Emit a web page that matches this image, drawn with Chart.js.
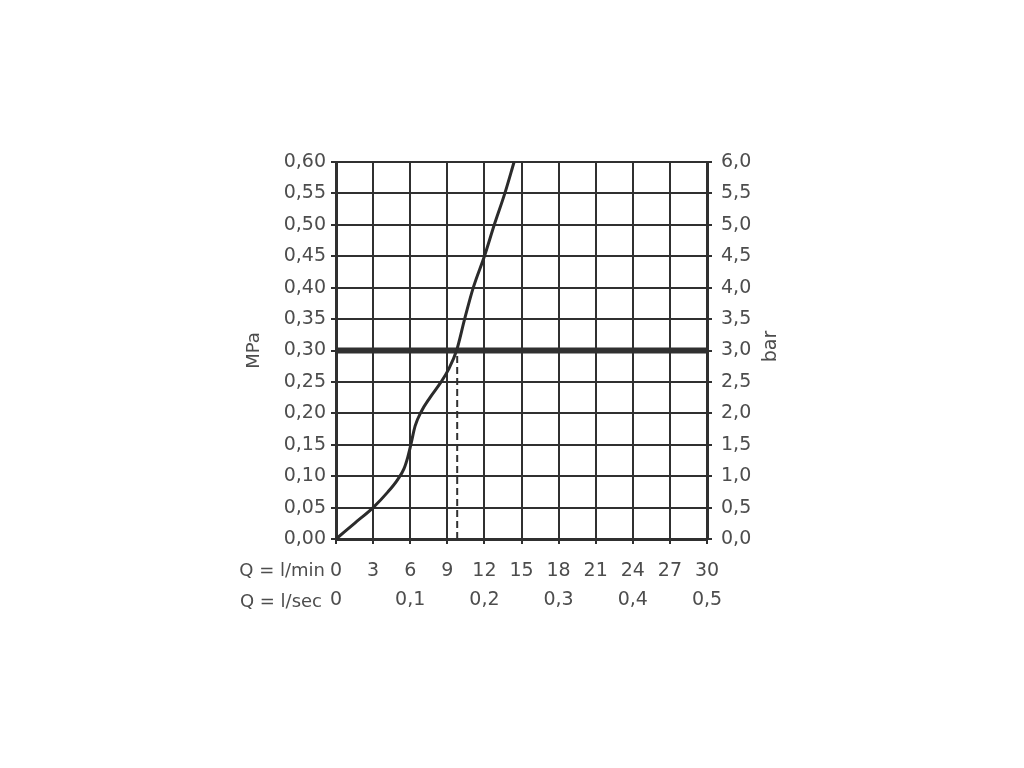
<!DOCTYPE html>
<html>
<head>
<meta charset="utf-8">
<script src="https://cdn.jsdelivr.net/npm/chart.js"></script>
<style>
  html, body { margin: 0; padding: 0; background: #fff; }
  #wrap { width: 1024px; height: 768px; position: relative; }
</style>
</head>
<body>
<div id="wrap"><canvas id="chart" width="1024" height="768"></canvas></div>
<script>
// flow curve (Q in l/min, p in MPa)
const flowLpm = [0, 1.5, 3, 4.2, 5.0, 5.5, 5.8, 6.05, 6.4, 6.9, 7.6, 8.5, 9.1, 9.75, 10.4, 11.1, 12.0, 12.8, 13.65, 14.4];
const pressureMPa = [0, 0.025, 0.05, 0.075, 0.095, 0.112, 0.13, 0.15, 0.18, 0.203, 0.225, 0.25, 0.27, 0.30, 0.35, 0.40, 0.45, 0.50, 0.55, 0.60];

// reference pressure line and the flow it gives
const refPressure = 0.30;
const refFlow = 9.8;

// axis ranges
const lpmMax = 30, lpmStep = 3;
const lpsMax = 0.5, lpsStep = 0.1;
const mpaMax = 0.60, mpaStep = 0.05;
const barMax = 6.0, barStep = 0.5;

const ink = '#303030';
const textCol = '#4d4d4d';
const fontFamily = '"DejaVu Sans", sans-serif';
const fontSize = 19;

function comma(v, digits) {
    return v.toFixed(digits).replace('.', ',');
}

// extra labels: row captions below the plot and the rotated "bar" title
const sideLabels = {
    id: 'sideLabels',
    afterDraw(chart) {
        const ctx = chart.ctx;
        const area = chart.chartArea;
        ctx.save();
        ctx.fillStyle = textCol;
        ctx.font = '18px ' + fontFamily;
        ctx.textAlign = 'right';
        ctx.textBaseline = 'middle';
        ctx.fillText('Q = l/min', area.left - 11, 571);
        ctx.fillText('Q = l/sec', area.left - 14, 602);

        ctx.font = fontSize + 'px ' + fontFamily;
        ctx.translate(771, (area.top + area.bottom) / 2 - 4);
        ctx.rotate(-Math.PI / 2);
        ctx.textAlign = 'center';
        ctx.fillText('bar', 0, 0);
        ctx.restore();
    }
};

const tickFont = { family: fontFamily, size: fontSize };

const ctx = document.getElementById('chart').getContext('2d');
new Chart(ctx, {
    type: 'line',
    data: {
        datasets: [
            {
                data: flowLpm.map((q, i) => ({ x: q, y: pressureMPa[i] })),
                borderColor: '#2b2b2b',
                borderWidth: 3,
                pointRadius: 0,
                cubicInterpolationMode: 'monotone',
                clip: false
            },
            {
                data: [{ x: 0, y: refPressure }, { x: lpmMax, y: refPressure }],
                borderColor: ink,
                borderWidth: 6,
                pointRadius: 0
            },
            {
                data: [{ x: refFlow, y: 0 }, { x: refFlow, y: refPressure }],
                borderColor: ink,
                borderWidth: 2,
                borderDash: [7, 4],
                pointRadius: 0
            }
        ]
    },
    options: {
        responsive: false,
        animation: false,
        layout: { padding: { left: 240, right: 250, top: 162, bottom: 134 } },
        plugins: {
            legend: { display: false },
            tooltip: { enabled: false }
        },
        scales: {
            x: {
                type: 'linear',
                position: 'bottom',
                min: 0, max: lpmMax,
                ticks: {
                    stepSize: lpmStep,
                    color: textCol,
                    font: tickFont,
                    padding: 16,
                    maxRotation: 0
                },
                grid: { color: ink, lineWidth: 2, tickLength: 5 },
                border: { color: ink, width: 3 },
                afterFit(scale) { scale.height = 50; }
            },
            x2: {
                type: 'linear',
                position: 'bottom',
                min: 0, max: lpsMax,
                ticks: {
                    stepSize: lpsStep,
                    color: textCol,
                    font: tickFont,
                    padding: 0,
                    maxRotation: 0,
                    callback: v => v === 0 ? '0' : comma(v, 1)
                },
                grid: { display: false, drawTicks: false },
                border: { display: false },
                afterFit(scale) { scale.height = 45; }
            },
            y: {
                type: 'linear',
                position: 'left',
                min: 0, max: mpaMax,
                ticks: {
                    stepSize: mpaStep,
                    color: textCol,
                    font: tickFont,
                    padding: 5,
                    callback: v => comma(v, 2)
                },
                grid: { color: ink, lineWidth: 2, tickLength: 5 },
                border: { color: ink, width: 3 },
                title: {
                    display: true,
                    text: 'MPa',
                    color: textCol,
                    font: { family: fontFamily, size: 18 },
                    padding: { top: 4, bottom: 0 }
                },
                afterFit(scale) { scale.width = 96; }
            },
            yBar: {
                type: 'linear',
                position: 'right',
                min: 0, max: barMax,
                ticks: {
                    stepSize: barStep,
                    color: textCol,
                    font: tickFont,
                    padding: 9,
                    callback: v => comma(v, 1)
                },
                grid: { drawOnChartArea: false, color: ink, lineWidth: 2, tickLength: 5 },
                border: { color: ink, width: 3 },
                afterFit(scale) { scale.width = 1024 - 250 - 707; }
            }
        }
    },
    plugins: [sideLabels]
});
</script>
</body>
</html>
